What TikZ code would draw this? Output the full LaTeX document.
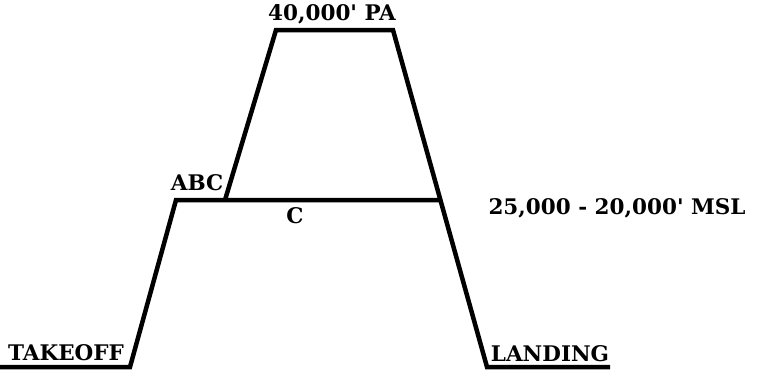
\documentclass[tikz,border=0pt]{standalone}
\usepackage{fontspec}
\setmainfont{DejaVu Serif}
\usetikzlibrary{positioning}

\begin{document}
\begin{tikzpicture}[
  x=1pt, y=-1pt,
  leg/.style={line width=4.5pt, line join=miter},
  lbl/.style={font=\bfseries\fontsize{21.5}{22}\selectfont, inner sep=0pt}
]
\useasboundingbox (0,0) rectangle (758,370);
% profile points
\coordinate (t0) at (0,367);
\coordinate (t1) at (130,367);
\coordinate (m0) at (176,200);
\coordinate (m1) at (225,200);
\coordinate (m2) at (441,200);
\coordinate (p0) at (276,30);
\coordinate (p1) at (393,30);
\coordinate (l0) at (487,367);
\coordinate (l1) at (610,367);
\draw[leg] (t0) -- (t1) -- (m0) -- (m2);
\draw[leg] (m1) -- (p0) -- (p1) -- (l0) -- (l1);

\node[lbl] (takeoff) at (66,353) {TAKEOFF};
\node[lbl] (abc) at (197,183) {ABC};
\node[lbl] (c) at (295,216) {C};
\node[lbl] (pa) at (332,14) {40,000\textquotesingle{} PA};
\node[lbl] (msl) at (617,208) {25,000 - 20,000\textquotesingle{} MSL};
\node[lbl] (landing) at (550,354) {LANDING};
\end{tikzpicture}
\end{document}
